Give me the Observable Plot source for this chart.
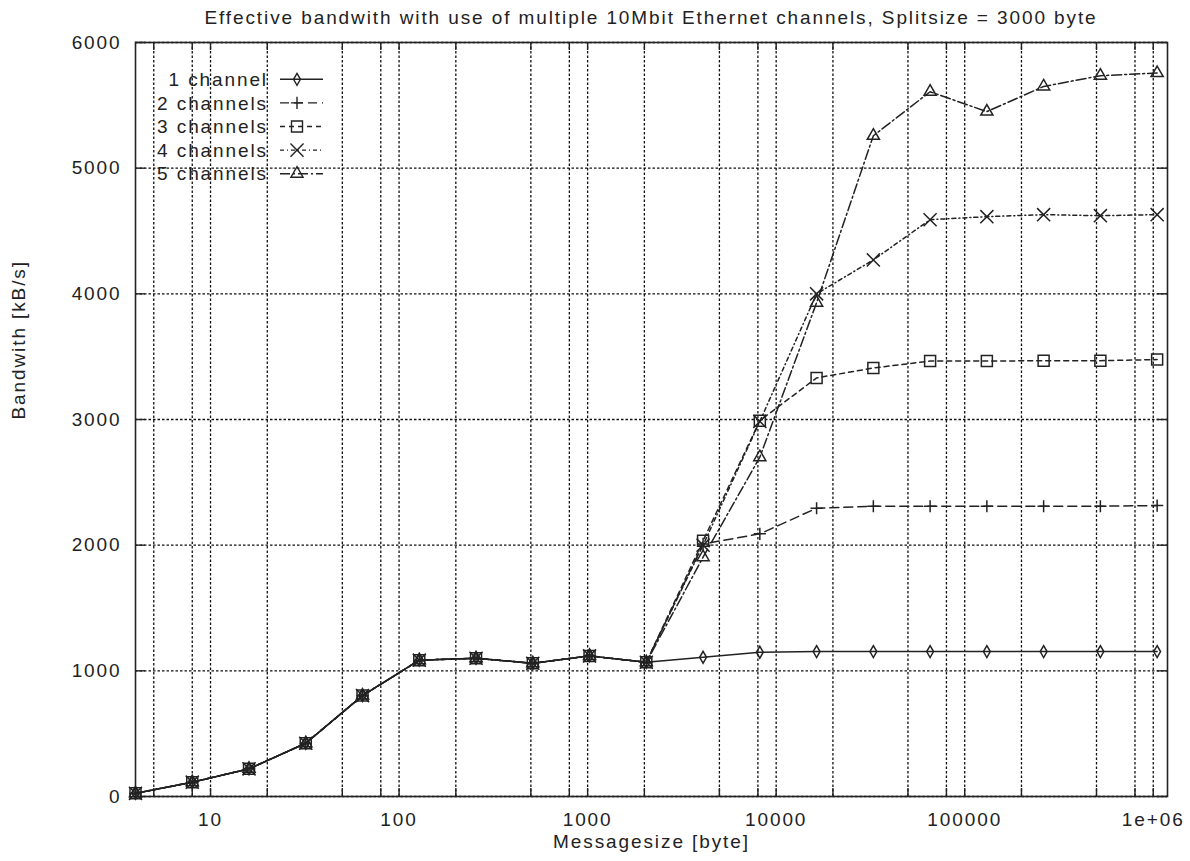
<!DOCTYPE html>
<html><head><meta charset="utf-8">
<script src="https://cdn.jsdelivr.net/npm/d3@7"></script>
<script src="https://cdn.jsdelivr.net/npm/@observablehq/plot@0.6"></script>
<style>
body{margin:0;background:#fff;}
#title{height:34px;line-height:36px;box-sizing:border-box;padding-left:112px;width:1190px;text-align:center;font-family:"Liberation Sans",Arial,sans-serif;font-size:19px;letter-spacing:1.9px;color:#222;white-space:nowrap;}
</style></head><body>
<div id="title">Effective bandwith with use of multiple 10Mbit Ethernet channels, Splitsize = 3000 byte</div>
<div id="chart"></div>
<script>
// Message sizes (bytes)
const messageSizes = [4, 8, 16, 32, 64, 128, 256, 512, 1024, 2048, 4096, 8192, 16384, 32768, 65536, 131072, 262144, 524288, 1048576];
// Bandwidth [kB/s] per number of channels
const oneChannel    = [25, 114, 220, 424, 803, 1085, 1100, 1060, 1119, 1068, 1108, 1148, 1153, 1153, 1153, 1153, 1153, 1153, 1153];
const twoChannels   = [25, 114, 220, 424, 803, 1085, 1100, 1060, 1119, 1068, 2010, 2090, 2294, 2310, 2310, 2310, 2310, 2310, 2315];
const threeChannels = [25, 114, 220, 424, 803, 1085, 1100, 1060, 1119, 1068, 2035, 2991, 3331, 3410, 3465, 3465, 3468, 3468, 3477];
const fourChannels  = [25, 114, 220, 424, 803, 1085, 1100, 1060, 1119, 1068, 2000, 2985, 4000, 4270, 4590, 4614, 4630, 4622, 4630];
const fiveChannels  = [25, 114, 220, 424, 803, 1085, 1100, 1060, 1119, 1068, 1904, 2700, 3930, 5258, 5608, 5450, 5650, 5736, 5757];
const seriesNames = ["1 channel", "2 channels", "3 channels", "4 channels", "5 channels"];
const seriesValues = [oneChannel, twoChannels, threeChannels, fourChannels, fiveChannels];
// Axis ticks
const xTickValues = [10, 100, 1000, 10000, 100000, 1000000];
const xTickLabels = ["10", "100", "1000", "10000", "100000", "1e+06"];
const xGridValues = [5, 8, 10, 20, 50, 80, 100, 200, 500, 800, 1000, 2000, 5000, 8000, 10000, 20000, 50000, 80000, 100000, 200000, 500000, 800000, 1000000];
const yTickValues = [0, 1000, 2000, 3000, 4000, 5000, 6000];

// Styles per series
const dashes = [null, "9,5", "5,4", "4,3,1,3", "10,3,2,3"];
const symbols = ["diamond", "plus", "square2", "times", "triangle2"];
const radii = [3.6, 4, 7, 6, 5.8];

const W = 1190, H = 827;
const mL = 135, mR = 23, mT = 8, mB = 65;
const innerH = H - mT - mB, innerW = W - mL - mR;
const ink = "#222";

const rows = [];
seriesNames.forEach((name, s) => {
  messageSizes.forEach((m, i) => rows.push({series: name, size: m, bw: seriesValues[s][i]}));
});

const marks = [
  Plot.gridX(xGridValues, {stroke: "#111", strokeOpacity: 1, strokeDasharray: "2.5,2", strokeWidth: 1.3}),
  Plot.gridY(yTickValues, {stroke: "#111", strokeOpacity: 1, strokeDasharray: "2.5,2", strokeWidth: 1.3}),
  // inward ticks on all sides
  Plot.tickX(xGridValues, {x: d => d, insetTop: innerH - 8, stroke: ink, strokeWidth: 1.4}),
  Plot.tickX(xGridValues, {x: d => d, insetBottom: innerH - 8, stroke: ink, strokeWidth: 1.4}),
  Plot.tickY(yTickValues, {y: d => d, insetRight: innerW - 10, stroke: ink, strokeWidth: 1.4}),
  Plot.tickY(yTickValues, {y: d => d, insetLeft: innerW - 10, stroke: ink, strokeWidth: 1.4}),
  Plot.axisX(xTickValues, {tickSize: 0, tickPadding: 16, tickFormat: (d) => xTickLabels[xTickValues.indexOf(d)], label: null, fill: ink}),
  Plot.axisY(yTickValues, {tickSize: 0, tickPadding: 14, tickFormat: d => String(d), label: null, fill: ink}),
  Plot.frame({stroke: ink, strokeWidth: 1.6}),
  Plot.text(["Messagesize [byte]"], {frameAnchor: "bottom", dy: 51, fill: ink}),
  Plot.text(["Bandwith [kB/s]"], {frameAnchor: "left", dx: -117, rotate: -90, fill: ink})
];

seriesNames.forEach((name, s) => {
  const data = rows.filter(r => r.series === name);
  marks.push(Plot.line(data, {x: "size", y: "bw", stroke: ink, strokeWidth: 1.5, strokeDasharray: dashes[s]}));
  marks.push(Plot.dot(data, {x: "size", y: "bw", symbol: symbols[s], r: radii[s], stroke: ink, strokeWidth: 1.5, fill: "none"}));
});

const chart = Plot.plot({
  width: W, height: H,
  marginLeft: mL, marginRight: mR, marginTop: mT, marginBottom: mB,
  style: "font-family: 'Liberation Sans', Arial, sans-serif; font-size: 19px; letter-spacing: 1.9px; color: #222; background: #fff; overflow: visible;",
  x: {type: "log", domain: [4, 1.19e6], axis: null},
  y: {domain: [0, 6000], axis: null},
  marks
});

// Legend inside the plot area (top-left), gnuplot style
const svg = d3.select(chart);
const lg = svg.append("g").attr("class", "legend");
const symGen = {diamond: d3.symbolDiamond, plus: d3.symbolPlus, square2: d3.symbolSquare2, times: d3.symbolTimes, triangle2: d3.symbolTriangle2};
seriesNames.forEach((name, s) => {
  const cy = 45.3 + 23.6 * s;
  lg.append("text").attr("x", 268).attr("y", cy).attr("dy", "0.35em").attr("text-anchor", "end")
    .attr("fill", ink).text(name);
  lg.append("line").attr("x1", 280).attr("x2", 323).attr("y1", cy).attr("y2", cy)
    .attr("stroke", ink).attr("stroke-width", 1.4).attr("stroke-dasharray", dashes[s]);
  lg.append("path").attr("transform", `translate(297,${cy})`)
    .attr("d", d3.symbol(symGen[symbols[s]], Math.PI * radii[s] * radii[s])())
    .attr("fill", "none").attr("stroke", ink).attr("stroke-width", 1.4);
});

document.getElementById("chart").appendChild(chart);
</script>
</body></html>
